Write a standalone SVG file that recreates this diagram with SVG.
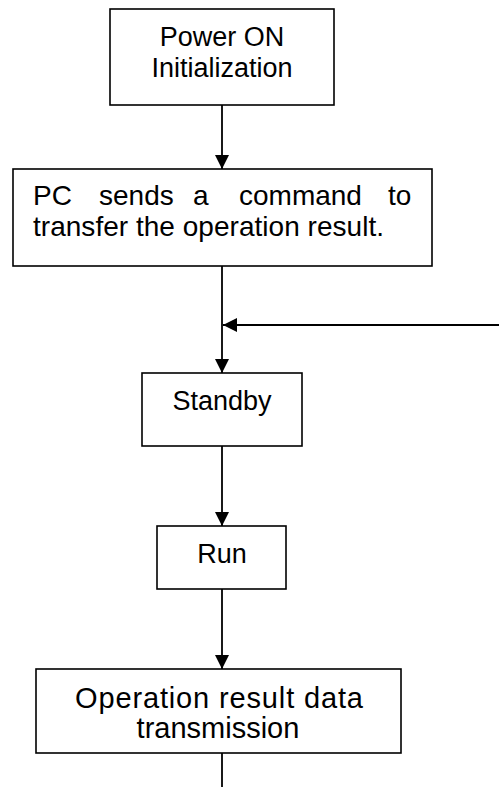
<svg xmlns="http://www.w3.org/2000/svg" width="499" height="787" viewBox="0 0 499 787">
<style>
.box{fill:#fff;stroke:#000;stroke-width:1.6}
.t{font-family:"Liberation Sans",Arial,sans-serif;font-size:27px;fill:#000}
.t28{font-size:28px}
.t29{font-size:29px}
.c{text-anchor:middle}
.ln{stroke:#000;stroke-width:1.8;fill:none}
</style>
<defs>
<marker id="ah" viewBox="0 0 14 14" refX="14" refY="7" markerWidth="14" markerHeight="14" markerUnits="userSpaceOnUse" orient="auto">
<path d="M0,0 L14,7 L0,14 Z" fill="#000"/>
</marker>
</defs>
<rect width="499" height="787" fill="#fff"/>
<g id="connectors">
<line class="ln" x1="222" y1="105" x2="222" y2="169" marker-end="url(#ah)"/>
<line class="ln" x1="222" y1="266" x2="222" y2="373" marker-end="url(#ah)"/>
<line class="ln" x1="499" y1="325" x2="223" y2="325" marker-end="url(#ah)"/>
<line class="ln" x1="222" y1="446" x2="222" y2="526" marker-end="url(#ah)"/>
<line class="ln" x1="222" y1="589" x2="222" y2="669" marker-end="url(#ah)"/>
<line class="ln" x1="222" y1="753" x2="222" y2="787"/>
</g>
<g id="power">
<rect class="box" x="110" y="9" width="224" height="96"/>
<text class="t c" x="222" y="46">Power ON</text>
<text class="t c" x="222" y="77">Initialization</text>
</g>
<g id="pc">
<rect class="box" x="13" y="169" width="419" height="97"/>
<text class="t t28" y="205"><tspan x="33">PC</tspan><tspan x="99">sends</tspan><tspan x="193">a</tspan><tspan x="239">command</tspan><tspan x="388">to</tspan></text>
<text class="t t28" x="33" y="236" textLength="351" lengthAdjust="spacing">transfer the operation result.</text>
</g>
<g id="standby">
<rect class="box" x="142" y="373" width="160" height="73"/>
<text class="t c" x="222" y="410">Standby</text>
</g>
<g id="run">
<rect class="box" x="157" y="526" width="129" height="63"/>
<text class="t c" x="222" y="563">Run</text>
</g>
<g id="result">
<rect class="box" x="36" y="669" width="365" height="84"/>
<text class="t t29" x="75" y="708" textLength="288" lengthAdjust="spacing">Operation result data</text>
<text class="t t29 c" x="218" y="738">transmission</text>
</g>
</svg>
